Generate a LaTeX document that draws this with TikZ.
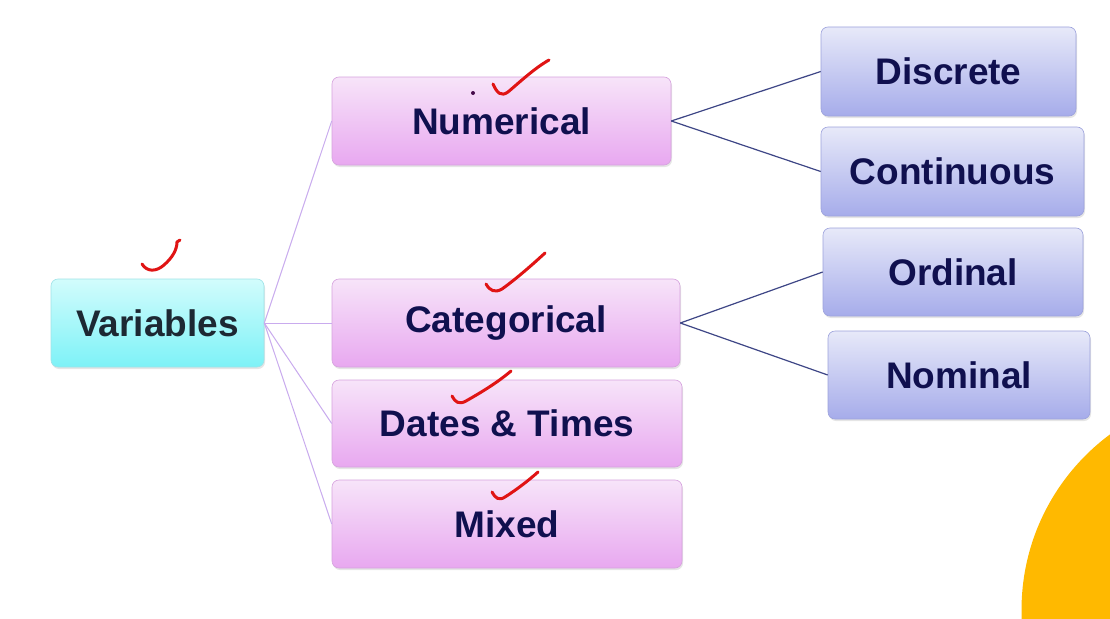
\documentclass[tikz,border=0pt]{standalone}
\usepackage{fontspec}
\setmainfont{Liberation Sans}
\usetikzlibrary{shadows}
\definecolor{navytxt}{HTML}{10104F}
\definecolor{vartxt}{HTML}{1D2833}
\definecolor{pinktop}{HTML}{F7E4F9}
\definecolor{pinkbot}{HTML}{E8A8F0}
\definecolor{pinkline}{HTML}{D6A2DE}
\definecolor{bluetop}{HTML}{E7E9F9}
\definecolor{bluebot}{HTML}{A6ACEA}
\definecolor{blueline}{HTML}{9CA2DC}
\definecolor{cyantop}{HTML}{D2FCFC}
\definecolor{cyanbot}{HTML}{7DF2F7}
\definecolor{cyanline}{HTML}{9FE3E8}
\definecolor{lightcon}{HTML}{C9ABEE}
\definecolor{darkcon}{HTML}{3E4686}
\definecolor{checkred}{HTML}{E01414}
\definecolor{amber}{HTML}{FFB900}
\tikzset{
  basebox/.style={rounded corners=7pt, line width=0.6pt, font=\fontsize{37}{41}\selectfont\bfseries,
    align=center, inner sep=0pt,
    drop shadow={shadow xshift=1pt, shadow yshift=-2pt, opacity=0.2, fill=gray}},
  varbox/.style={basebox, top color=cyantop, bottom color=cyanbot, draw=cyanline, text=vartxt},
  pinkbox/.style={basebox, top color=pinktop, bottom color=pinkbot, draw=pinkline, text=navytxt},
  bluebox/.style={basebox, top color=bluetop, bottom color=bluebot, draw=blueline, text=navytxt},
  lightlink/.style={draw=lightcon, line width=1pt},
  darklink/.style={draw=darkcon, line width=1.2pt},
  tick/.style={draw=checkred, line width=3pt, line cap=round, line join=round}
}
\begin{document}
\begin{tikzpicture}[x=1pt, y=-1pt]
\useasboundingbox (0,0) rectangle (1110,618);
\fill[white] (0,0) rectangle (1110,618);
\begin{scope}
  \clip (0,0) rectangle (1110,618);
  \fill[amber] (1240,610) circle[radius=218.5];
\end{scope}

\node[varbox, minimum width=213pt, minimum height=88pt] (var) at (157.5,323) {Variables};
\node[pinkbox, minimum width=339pt, minimum height=88pt] (num) at (501.5,121) {Numerical};
\node[pinkbox, minimum width=348pt, minimum height=88pt] (cat) at (506,323) {Categorical};
\node[pinkbox, minimum width=350pt, minimum height=87pt] (dat) at (507,423.5) {Dates \& Times};
\node[pinkbox, minimum width=350pt, minimum height=88pt] (mix) at (507,524) {Mixed};
\node[bluebox, minimum width=255pt, minimum height=89pt] (dis) at (948.5,71.5) {Discrete};
\node[bluebox, minimum width=263pt, minimum height=89pt] (con) at (952.5,171.5) {Continuous};
\node[bluebox, minimum width=260pt, minimum height=88pt] (ord) at (953,272) {Ordinal};
\node[bluebox, minimum width=262pt, minimum height=88pt] (nom) at (959,375) {Nominal};

\draw[lightlink] (var.east) -- (num.west);
\draw[lightlink] (var.east) -- (cat.west);
\draw[lightlink] (var.east) -- (dat.west);
\draw[lightlink] (var.east) -- (mix.west);
\draw[darklink] (num.east) -- (dis.west);
\draw[darklink] (num.east) -- (con.west);
\draw[darklink] (cat.east) -- (ord.west);
\draw[darklink] (cat.east) -- (nom.west);

% check marks
\draw[tick] (142,264) .. controls (147,272) and (156,272) .. (164,265) .. controls (172,258) and (177,250) .. (177,242) -- (180,240);
\draw[tick] (493,84) .. controls (497,93) and (501,97) .. (508,92) .. controls (522,80) and (535,68) .. (549,60);
\draw[tick] (486,284) .. controls (490,291) and (495,293) .. (502,289) .. controls (516,279) and (532,265) .. (545,253);
\draw[tick] (452,396) .. controls (455,402) and (459,405) .. (466,401) .. controls (480,393) and (497,383) .. (511,371);
\draw[tick] (492,492) .. controls (495,498) and (499,501) .. (505,497) .. controls (516,490) and (528,481) .. (538,472);
\fill[navytxt!70!purple] (473,93) circle[radius=2];
\end{tikzpicture}
\end{document}
